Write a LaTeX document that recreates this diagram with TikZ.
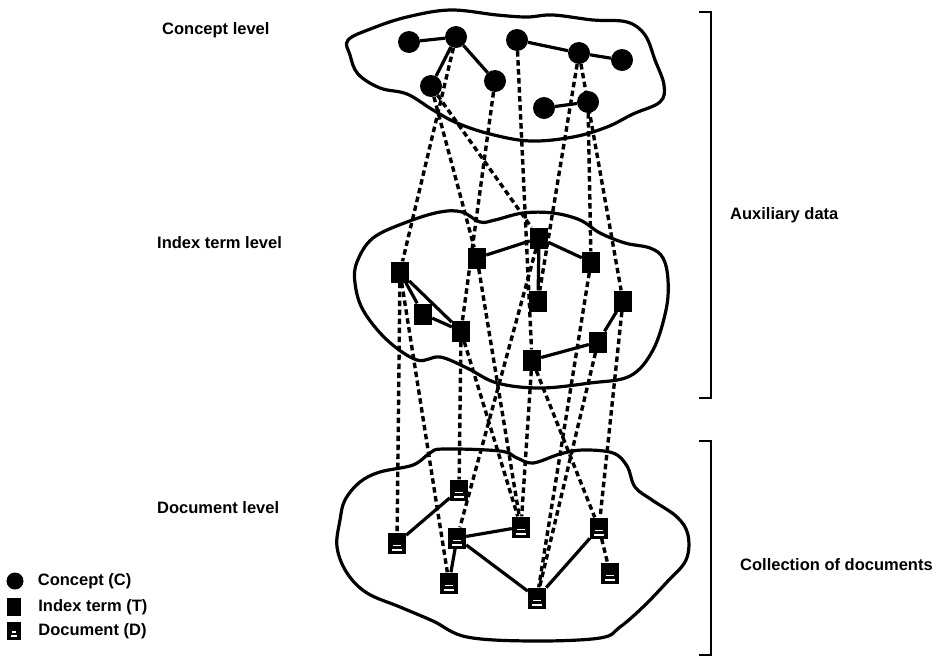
\documentclass[tikz,border=0pt]{standalone}
\usepackage{fontspec}
\setmainfont{Liberation Sans}
\usetikzlibrary{positioning}

\begin{document}
\begin{tikzpicture}[x=1pt, y=-1pt,
  concept/.style={circle, fill=black, minimum size=22pt, inner sep=0pt},
  term/.style={rectangle, fill=black, minimum width=18pt, minimum height=21pt, inner sep=0pt},
  docu/.style={term, path picture={
      \fill[white] ([xshift=4pt,yshift=3pt]path picture bounding box.south west)
        rectangle ([xshift=-4pt,yshift=5pt]path picture bounding box.south east);
      \fill[white] ([xshift=5pt,yshift=7.5pt]path picture bounding box.south west)
        rectangle ([xshift=-5pt,yshift=8.8pt]path picture bounding box.south east);}},
  solidlink/.style={line width=3.2pt},
  dashlink/.style={line width=3.4pt, dash pattern=on 5.5pt off 3.5pt},
  blob/.style={line width=3.2pt, line join=round},
  lbl/.style={font=\fontsize{16.5}{18}\selectfont\bfseries, anchor=west, inner sep=0pt}
]

\useasboundingbox (0,0) rectangle (936,659);

% Level outlines
\draw[blob] plot[smooth cycle, tension=0.6] coordinates {
  (348,40) (373,28) (407,17) (450,10) (497,15) (527,17) (553,15) (593,20)
  (627,22) (645,35) (655,60) (664,85) (660,102) (633,114) (607,127) (573,137)
  (530,141) (490,134) (457,123) (433,110) (407,94) (380,88) (358,74) (350,55)};
\draw[blob] plot[smooth cycle, tension=0.6] coordinates {
  (357,262) (373,238) (407,222) (440,212) (462,212) (480,222) (495,220) (523,213)
  (553,213) (580,220) (600,233) (625,243) (650,248) (663,258) (668,280) (666,310)
  (653,350) (630,376) (590,383) (540,388) (497,383) (467,368) (440,357) (417,360)
  (387,340) (363,310) (355,283)};
\draw[blob] plot[smooth cycle, tension=0.6] coordinates {
  (337,547) (340,520) (345,500) (360,482) (380,472) (413,465) (430,453) (443,449)
  (500,451) (517,458) (533,463) (560,454) (583,450) (613,453) (627,466) (635,487)
  (652,500) (677,517) (688,535) (686,560) (667,582) (643,607) (620,627) (600,638)
  (533,641) (467,637) (433,621) (400,607) (367,593) (347,573)};

% Concepts
\node[concept] (c1) at (409,42) {};
\node[concept] (c2) at (456,37) {};
\node[concept] (c3) at (431,86) {};
\node[concept] (c4) at (495,81) {};
\node[concept] (c5) at (517,40) {};
\node[concept] (c6) at (579,53) {};
\node[concept] (c7) at (622,60) {};
\node[concept] (c8) at (588,102) {};
\node[concept] (c9) at (544,108) {};

% Index terms
\node[term] (t1) at (400,272) {};
\node[term] (t2) at (423,314) {};
\node[term] (t3) at (461,331) {};
\node[term] (t4) at (477,258) {};
\node[term] (t5) at (539,238) {};
\node[term] (t6) at (538,301) {};
\node[term] (t7) at (591,262) {};
\node[term] (t8) at (623,301) {};
\node[term] (t9) at (598,342) {};
\node[term] (t10) at (532,360) {};

% Documents
\node[docu] (d1) at (397,543) {};
\node[docu] (d2) at (459,490) {};
\node[docu] (d3) at (457,538) {};
\node[docu] (d4) at (449,583) {};
\node[docu] (d5) at (521,527) {};
\node[docu] (d6) at (537,598) {};
\node[docu] (d7) at (599,528) {};
\node[docu] (d8) at (610,573) {};

% Links inside a level
\foreach \a/\b in {c1/c2, c2/c3, c2/c4, c5/c6, c6/c7, c9/c8,
                   t1/t2, t1/t3, t2/t3, t4/t5, t5/t7, t5/t6, t8/t9, t9/t10,
                   d1/d2, d3/d5, d3/d4, d3/d6, d6/d7}
  \draw[solidlink] (\a) -- (\b);

% Links between levels
\foreach \a/\b in {c2/t1, c3/t4, c3/t5, c4/t3, c5/t10, c6/t6, c6/t8, c8/t7,
                   t1/d1, t1/d4, t3/d2, t3/d5, t4/d5, t5/d3, t10/d5, t10/d7,
                   t7/d6, t9/d6, t8/d7, d7/d8}
  \draw[dashlink] (\a) -- (\b);

% Brackets
\draw[line width=2.6pt] (699,12) -- (711,12) -- (711,398) -- (699,398);
\draw[line width=2.6pt] (699,441) -- (711,441) -- (711,655) -- (699,655);

% Labels
\node[lbl] (conceptlbl) at (162,30) {Concept level};
\node[lbl] (termlbl) at (157,243) {Index term level};
\node[lbl] (doclbl) at (157,508) {Document level};
\node[lbl] (auxlbl) at (730,215) {Auxiliary data};
\node[lbl] (collbl) at (740,565) {Collection of documents};

% Legend
\node[concept, minimum size=17pt] (legc) at (15,581) {};
\node[lbl, right=14pt of legc] (legctext) {Concept (C)};
\node[term, minimum width=14pt, minimum height=18pt] (legt) at (14,607) {};
\node[lbl, right=17pt of legt] (legttext) {Index term (T)};
\node[docu, minimum width=14pt, minimum height=18pt] (legd) at (14,631) {};
\node[lbl, right=17pt of legd] (legdtext) {Document (D)};

\end{tikzpicture}
\end{document}
